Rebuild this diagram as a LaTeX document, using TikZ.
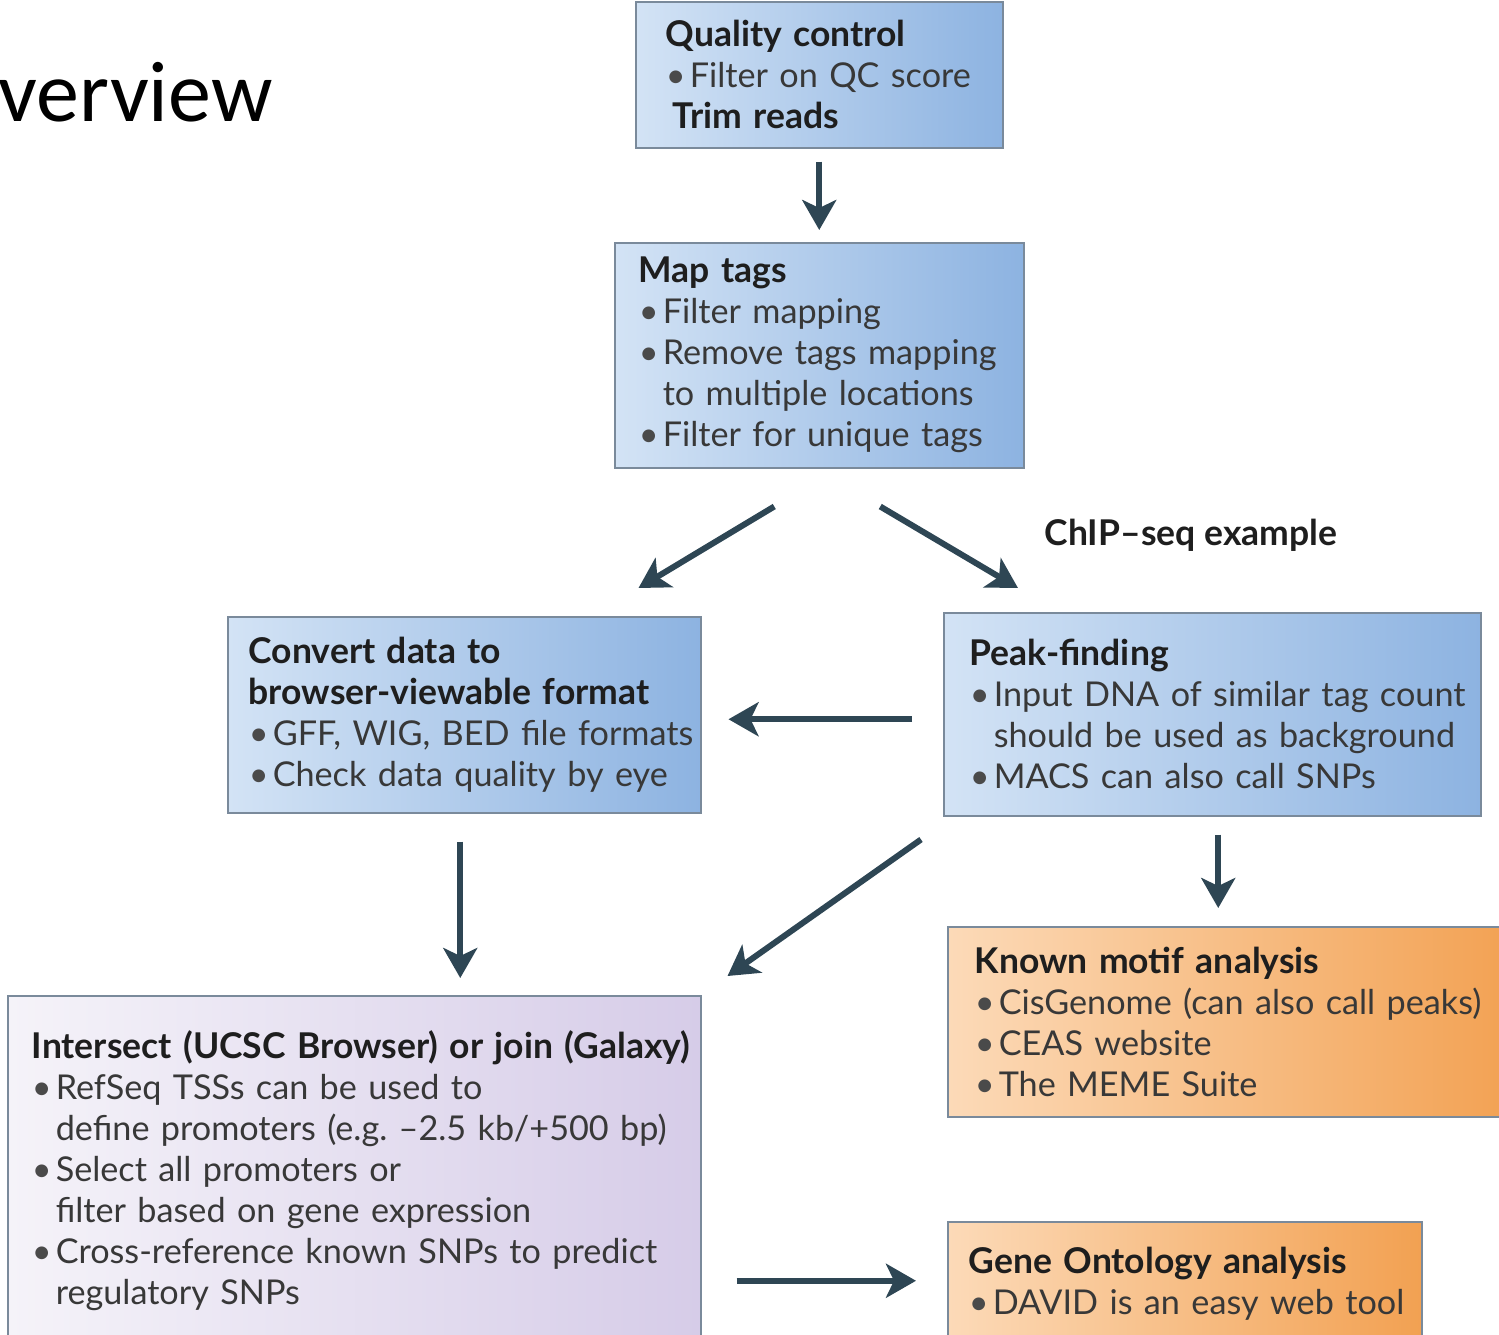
\documentclass[tikz,border=0pt]{standalone}
\usepackage{fontspec}
\setmainfont{Lato}
\newfontfamily\slidefont{Carlito}
\usetikzlibrary{arrows.meta}
\usetikzlibrary{calc}

\definecolor{boxline}{HTML}{7A8A9B}
\definecolor{arrowcol}{HTML}{2E4654}
\definecolor{headcol}{HTML}{1E1E1E}
\definecolor{bodycol}{HTML}{383838}
\definecolor{bulcol}{HTML}{4A4A4A}
\definecolor{blueL}{HTML}{D3E3F5}
\definecolor{blueR}{HTML}{8DB3E1}
\definecolor{orangeL}{HTML}{FCDAB8}
\definecolor{orangeR}{HTML}{F2A152}
\definecolor{lilacL}{HTML}{F5F3F9}
\definecolor{lilacR}{HTML}{D6CCE8}

\newcommand{\hd}[1]{\mbox{\fontsize{35.5}{41}\selectfont\bfseries\color{headcol}#1}}
\newcommand{\itm}[1]{\mbox{\makebox[24pt][l]{\textcolor{bulcol}{\textbullet}}#1}}
\newcommand{\cnt}[1]{\mbox{\hspace*{24pt}#1}}

\begin{document}
\begin{tikzpicture}[x=1pt,y=-1pt,
  box/.style={draw=boxline,line width=1.5,anchor=north west,inner ysep=0,align=left,
    font=\fontsize{34.2}{41}\selectfont,text=bodycol},
  bluebox/.style={box,left color=blueL,right color=blueR},
  orangebox/.style={box,left color=orangeL,right color=orangeR},
  lilacbox/.style={box,left color=lilacL,right color=lilacR},
  flow/.style={draw=arrowcol,line width=6,-{Stealth[length=30,width=34,inset=8]}}]
    \clip (0,0) rectangle (1499,1334);
    \node[font=\slidefont\fontsize{86}{100}\selectfont,anchor=base east] (title) at (276,121) {verview};
    % boxes
    \node[bluebox,minimum width=367,minimum height=146,inner xsep=30,text width=307] (qc) at (635,1)
      {\hd{Quality control}\\ \itm{Filter on QC score}\\ \hd{\hspace*{7pt}Trim reads}};
    \node[bluebox,minimum width=409,minimum height=225,inner xsep=24,text width=361] (map) at (614,242)
      {\hd{Map tags}\\ \itm{Filter mapping}\\ \itm{Remove tags mapping}\\ \cnt{to multiple locations}\\ \itm{Filter for unique tags}};
    \node[bluebox,minimum width=473,minimum height=196,inner xsep=21,text width=431] (conv) at (227,616)
      {\hd{Convert data to}\\ \hd{browser-viewable format}\\ \itm{GFF, WIG, BED file formats}\\ \itm{Check data quality by eye}};
    \node[bluebox,minimum width=537,minimum height=203,inner xsep=26,text width=485] (peak) at (943,612)
      {\hd{Peak-finding}\\ \itm{Input DNA of similar tag count}\\ \cnt{should be used as background}\\ \itm{MACS can also call SNPs}};
    \node[orangebox,minimum width=570,minimum height=190,inner xsep=27,text width=516] (known) at (947,926)
      {\hd{Known motif analysis}\\ \itm{CisGenome (can also call peaks)}\\ \itm{CEAS website}\\ \itm{The MEME Suite}};
    \node[lilacbox,minimum width=693,minimum height=350,inner xsep=24,text width=645] (inter) at (7,995)
      {\hd{Intersect (UCSC Browser) or join (Galaxy)}\\ \itm{RefSeq TSSs can be used to}\\ \cnt{define promoters (e.g.\ –2.5 kb/+500 bp)}\\
       \itm{Select all promoters or}\\ \cnt{filter based on gene expression}\\ \itm{Cross-reference known SNPs to predict}\\ \cnt{regulatory SNPs}};
    \node[orangebox,minimum width=474,minimum height=124,inner xsep=21,text width=432] (go) at (947,1221)
      {\hd{Gene Ontology analysis}\\ \itm{DAVID is an easy web tool}};
    \node[font=\fontsize{35.5}{41}\selectfont\bfseries,text=headcol] (chip) at (1191,535) {ChIP--seq example};
    % arrows
    \draw[flow,shorten <=13,shorten >=12] (qc.south) -- (map.north);
    \draw[flow] ($(map.south)+(-45,38)$) -- ($(conv.north east)+(-63,-28)$);
    \draw[flow] ($(map.south)+(61,38)$) -- ($(peak.north west)+(75,-24)$);
    \draw[flow] ($(peak.west)+(-31,5)$) -- ($(peak.west -| conv.east)+(27,5)$);
    \draw[flow] ($(conv.south)+(-4,28)$) -- ($(conv.south |- inter.north)+(-4,-17)$);
    \draw[flow] ($(peak.south west)+(-22,23)$) -- ($(inter.north east)+(26,-19)$);
    \draw[flow] ($(peak.south)+(6,18)$) -- ($(peak.south |- known.north)+(6,-18)$);
    \draw[flow] ($(go.west -| inter.east)+(35,-3)$) -- ($(go.west)+(-31,-3)$);
\end{tikzpicture}
\end{document}
